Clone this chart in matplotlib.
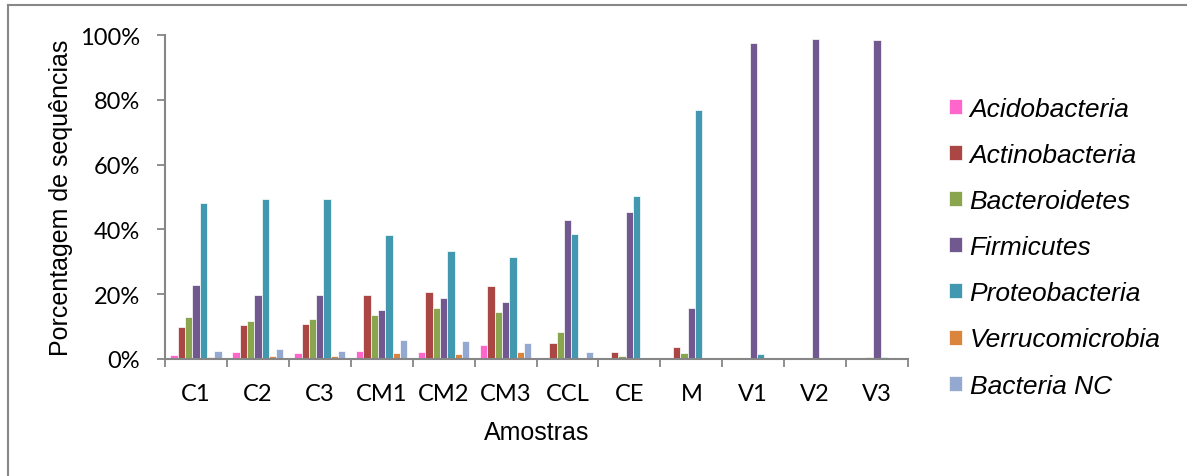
import numpy as np
import matplotlib.pyplot as plt
from matplotlib.lines import Line2D
from matplotlib.ticker import PercentFormatter

samples = ['C1', 'C2', 'C3', 'CM1', 'CM2', 'CM3', 'CCL', 'CE', 'M', 'V1', 'V2', 'V3']
phyla = ['Acidobacteria', 'Actinobacteria', 'Bacteroidetes', 'Firmicutes',
         'Proteobacteria', 'Verrucomicrobia', 'Bacteria NC']
colors = ['#FF66CC', '#AA4643', '#89A54E', '#71588F', '#4198AF', '#DB843D', '#93A9CF']

# percentages
acido = [1.2, 2.3, 2.0, 2.6, 2.2, 4.2, 0.4, 0.3, 0.3, 0.1, 0.0, 0.0]
actino = [10.0, 10.6, 10.7, 19.8, 20.8, 22.6, 5.0, 2.2, 3.7, 0.2, 0.3, 0.0]
bacter = [13.1, 11.6, 12.2, 13.6, 15.6, 14.4, 8.3, 0.8, 1.8, 0.0, 0.0, 0.6]
firmic = [22.8, 19.9, 19.8, 15.0, 18.8, 17.7, 43.0, 45.5, 15.8, 97.6, 98.7, 98.6]
proteo = [48.3, 49.5, 49.3, 38.4, 33.2, 31.6, 38.5, 50.4, 76.9, 1.6, 0.2, 0.7]
verruc = [0.7, 0.8, 1.0, 1.9, 1.6, 2.3, 0.0, 0.0, 0.0, 0.0, 0.0, 0.0]
bact_nc = [2.6, 3.2, 2.6, 6.0, 5.4, 4.8, 2.2, 0.0, 0.0, 0.0, 0.2, 0.0]

series = [acido, actino, bacter, firmic, proteo, verruc, bact_nc]

fig = plt.figure(figsize=(11.87, 4.77), dpi=100)
ax = fig.add_axes([0.139, 0.2453, 0.626, 0.6792])

x = np.arange(len(samples))
w = 0.118
for i, (vals, name, c) in enumerate(zip(series, phyla, colors)):
    ax.bar(x + (i - 3) * w, np.array(vals) / 100, w, color=c, label=name,
           edgecolor='white', linewidth=0.5)

ax.set_xlim(-0.5, len(samples) - 0.5)
ax.set_ylim(0, 1)
ax.yaxis.set_major_formatter(PercentFormatter(1.0, decimals=0))
ax.set_yticks(np.arange(0, 1.01, 0.2))

ax.set_xticks(x)
ax.set_xticklabels(samples)
ax.set_xticks(np.arange(-0.5, len(samples), 1), minor=True)
ax.tick_params(axis='x', which='major', length=0, pad=17)
ax.tick_params(axis='x', which='minor', length=6, width=1.3, color='#868686')
ax.tick_params(axis='y', length=6, width=1.3, color='#868686', pad=12)

for lab in ax.get_xticklabels() + ax.get_yticklabels():
    lab.set_fontfamily('Lato')
    lab.set_fontsize(17)

for s in ['top', 'right']:
    ax.spines[s].set_visible(False)
for s in ['left', 'bottom']:
    ax.spines[s].set_color('#868686')
    ax.spines[s].set_linewidth(1.5)

ax.set_xlabel('Amostras', fontsize=18, family='Liberation Sans', labelpad=12)
ax.set_ylabel('Porcentagem de sequências', fontsize=18, family='Liberation Sans', labelpad=5)

fig.legend(loc='upper left', bbox_to_anchor=(0.788, 0.823), frameon=False,
           prop={'family': 'Liberation Sans', 'style': 'italic', 'size': 19},
           handlelength=0.5, handleheight=0.5, handletextpad=0.3,
           labelspacing=0.84, borderpad=0)

# outer chart border (only top and left visible)
fig.add_artist(Line2D([8 / 1187, 1], [1 - 6 / 477, 1 - 6 / 477], color='#888888', lw=1.5,
                      transform=fig.transFigure))
fig.add_artist(Line2D([8 / 1187, 8 / 1187], [0, 1 - 6 / 477], color='#888888', lw=1.5,
                      transform=fig.transFigure))

fig.savefig('out.png', dpi=100)
